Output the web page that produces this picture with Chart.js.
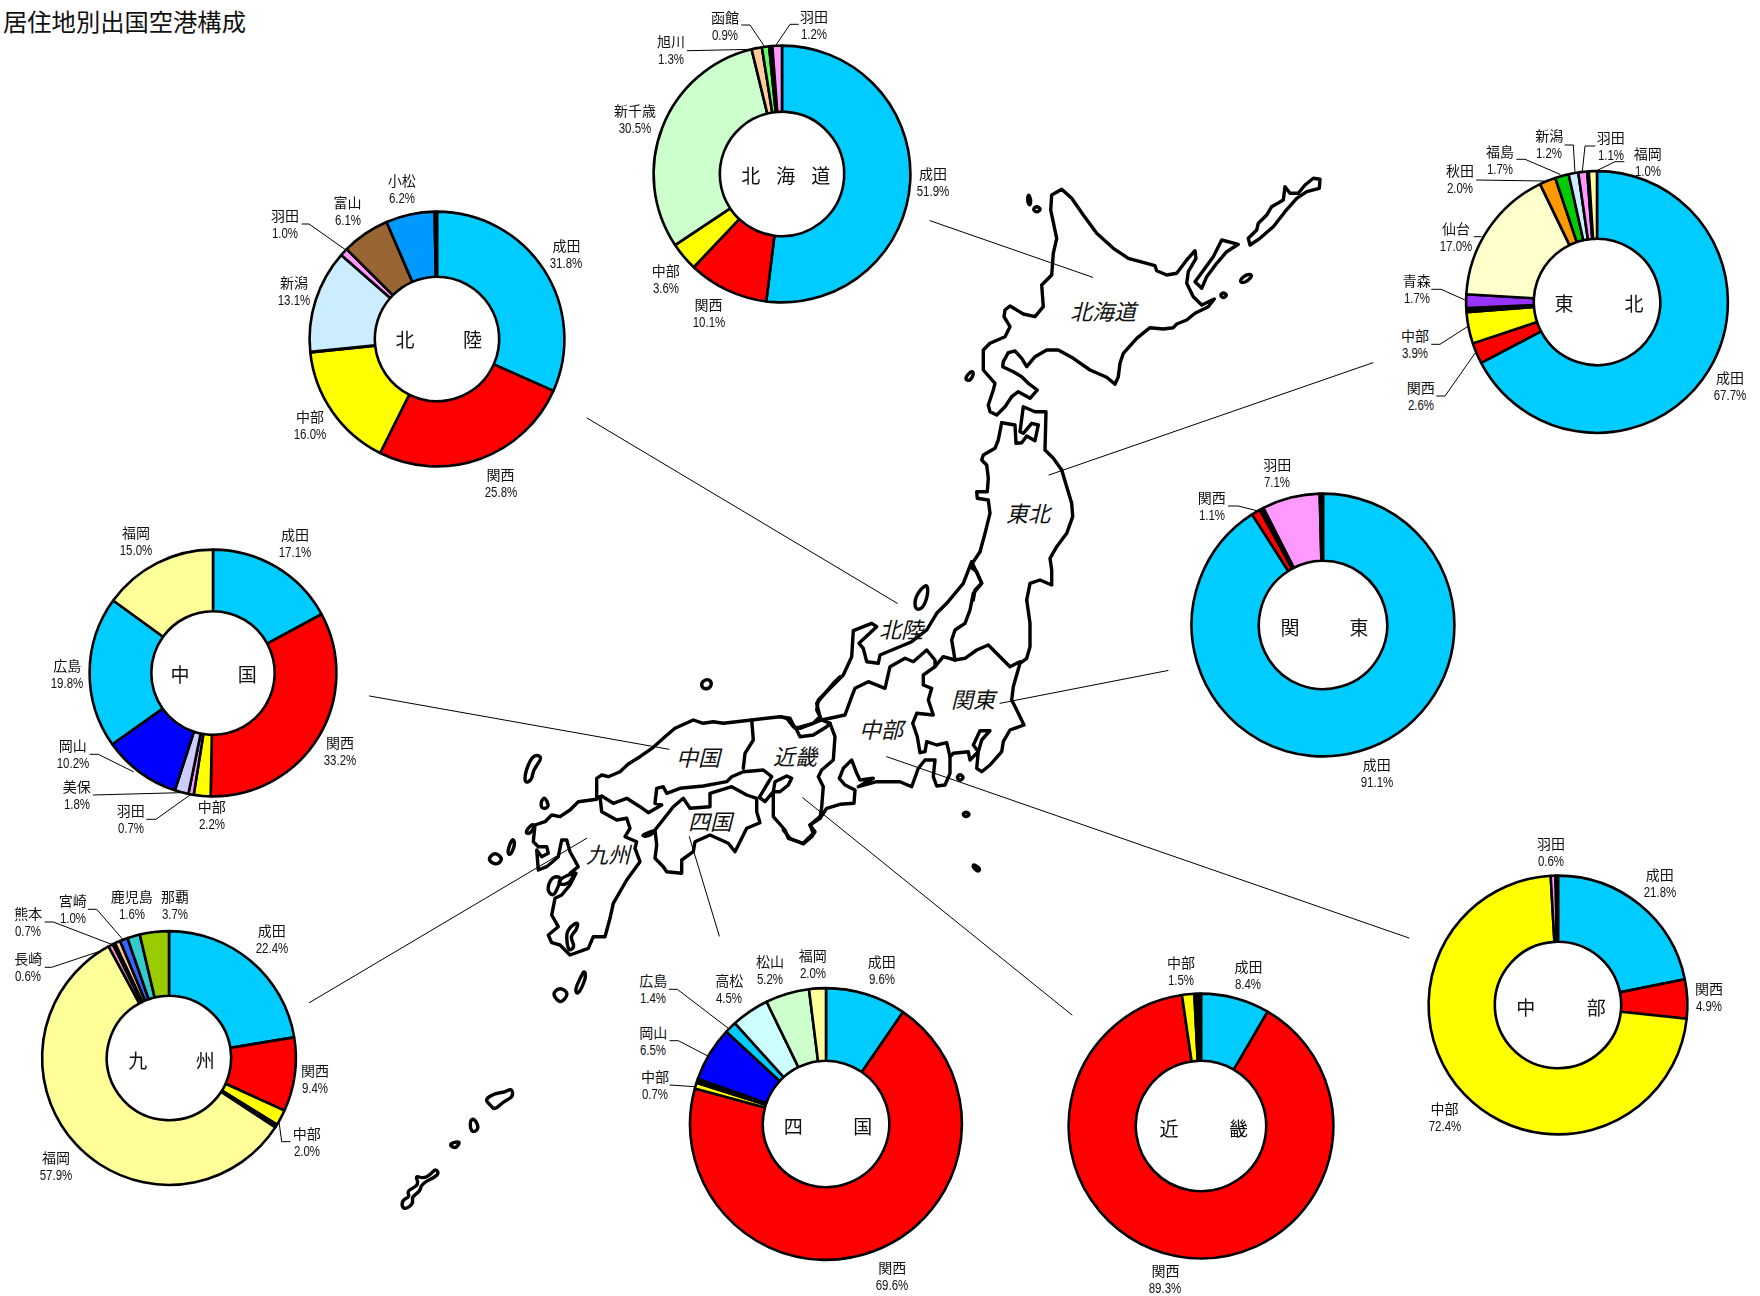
<!DOCTYPE html>
<html lang="ja"><head><meta charset="utf-8">
<title>居住地別出国空港構成</title>
<script src="https://cdn.jsdelivr.net/npm/chart.js@4"></script>
<style>
html,body{margin:0;padding:0;background:#fff}
#stage{position:relative;width:1760px;height:1296px;overflow:hidden;background:#fff;font-family:"Noto Sans CJK JP",sans-serif;color:#111}
#stage canvas{position:absolute}
svg{position:absolute;left:0;top:0}
.t{position:absolute;white-space:nowrap;transform:translate(-50%,-50%);text-align:center}
.lab{font-size:14px;line-height:20px}
.lab b{display:block;font-weight:400;line-height:18px}
.lab i{display:block;font-style:normal;font-family:"Liberation Sans",sans-serif;font-size:14px;line-height:18px;transform:scaleX(.82)}
.ctr{font-size:19px;line-height:22px}
.map{font-size:22px;font-style:italic;line-height:26px}
#title{position:absolute;left:3px;top:6px;font-size:24.3px;line-height:30px;white-space:nowrap}
</style></head><body><div id="stage">
<div id="title">居住地別出国空港構成</div>
</div>
<script>
// ---- data: share of departures by airport, clockwise from 12 o'clock ----
const hokkaidoAirports=['成田','関西','中部','新千歳','旭川','函館','その他','羽田'];
const hokkaidoShares=[51.9,10.1,3.6,30.5,1.3,0.9,0.4,1.2];
const tohokuAirports=['成田','関西','中部','その他','青森','仙台','秋田','福島','新潟','羽田','その他','福岡'];
const tohokuShares=[67.7,2.6,3.9,0.5,1.7,17.0,2.0,1.7,1.2,1.1,0.2,1.0];
const hokurikuAirports=['成田','関西','中部','その他','新潟','羽田','富山','小松','その他'];
const hokurikuShares=[31.8,25.8,16.0,0.1,13.1,1.0,6.1,6.2,0.3];
const kantoAirports=['成田','関西','その他','羽田','その他'];
const kantoShares=[91.1,1.1,0.5,7.1,0.4];
const chubuAirports=['成田','関西','中部','羽田','その他'];
const chubuShares=[21.8,4.9,72.4,0.6,0.3];
const kinkiAirports=['成田','関西','中部','その他'];
const kinkiShares=[8.4,89.3,1.5,0.8];
const chugokuAirports=['成田','関西','中部','羽田','美保','岡山','広島','福岡'];
const chugokuShares=[17.1,33.2,2.2,0.7,1.8,10.2,19.8,15.0];
const shikokuAirports=['成田','関西','中部','その他','岡山','広島','高松','松山','福岡'];
const shikokuShares=[9.6,69.6,0.7,0.5,6.5,1.4,4.5,5.2,2.0];
const kyushuAirports=['成田','関西','中部','その他','福岡','長崎','大分','熊本','宮崎','鹿児島','那覇'];
const kyushuShares=[22.4,9.4,2.0,0.4,57.9,0.6,0.3,0.7,1.0,1.6,3.7];
const regionNames=['北海道','東北','北陸','関東','中部','近畿','中国','四国','九州'];
const regionAirports=[hokkaidoAirports,tohokuAirports,hokurikuAirports,kantoAirports,chubuAirports,kinkiAirports,chugokuAirports,shikokuAirports,kyushuAirports];
const regionShares=[hokkaidoShares,tohokuShares,hokurikuShares,kantoShares,chubuShares,kinkiShares,chugokuShares,shikokuShares,kyushuShares];

// ---- styles ----
const airportColors={'成田':'#00CCFF','関西':'#FF0000','中部':'#FFFF00','羽田':'#FF99FF','新千歳':'#CCFFCC','旭川':'#FFCC99','函館':'#66FF66',
'その他':'#000000','青森':'#9933FF','仙台':'#FFFFCC','秋田':'#FF9900','福島':'#00CC00','新潟':'#CCECFF','福岡':'#FFFF99','富山':'#996633','小松':'#0099FF',
'美保':'#CCCCFF','岡山':'#0000FF','広島':'#00CCFF','高松':'#CCFFFF','松山':'#CCFFCC','長崎':'#FF99CC','大分':'#CC99FF','熊本':'#FFCC99','宮崎':'#3366FF','鹿児島':'#33CCCC','那覇':'#99CC00'};

// ---- layout: [centre x, centre y, outer r, inner r, title x, title y, title char pitch] ----
const donutLayout=[
[782,174,128,63,785.7,175,35],
[1597,302,130.5,64,1599,303,70],
[437,339,127,63,438.8,339,67.6],
[1323,625,131,65,1324.6,626.5,69],
[1558,1005,129,64,1561,1006.5,70.3],
[1201,1126,132,66,1203.8,1127.5,69.5],
[212.5,673,123,62.5,213.7,674,67.3],
[825.5,1124,135.5,64,828,1125.5,69.4],
[169,1058,126.5,63,171.5,1060,67.5]];
const labelLayout=[
{'成田':[933,182],'関西':[708.6,313],'中部':[665.7,279],'新千歳':[635,119],'旭川':[671,50],'函館':[725,26],'羽田':[814,25]},
{'成田':[1730,386],'関西':[1420.7,396],'中部':[1415,344.3],'青森':[1416.7,289.3],'仙台':[1456,236.7],'秋田':[1460,179.3],'福島':[1500,160],'新潟':[1549.3,144.3],'羽田':[1610.7,145.7],'福岡':[1647.7,161.7]},
{'成田':[566.4,254],'関西':[500.6,482.7],'中部':[310,425],'新潟':[294,291],'羽田':[285,224],'富山':[347.5,210.7],'小松':[401.8,189]},
{'成田':[1376.8,772.6],'関西':[1211.7,506],'羽田':[1277.3,472.7]},
{'成田':[1659.8,882.7],'関西':[1709,997.3],'中部':[1444.5,1116.7],'羽田':[1550.9,852]},
{'成田':[1248.4,975],'関西':[1165.4,1279],'中部':[1181,970.7]},
{'成田':[295,543],'関西':[340,750.7],'中部':[211.7,815],'羽田':[130.7,819],'美保':[76.7,795],'岡山':[72.7,754],'広島':[67.3,674],'福岡':[136,540.7]},
{'成田':[881.7,970],'関西':[892.3,1276],'中部':[655,1085],'岡山':[653.3,1040.7],'広島':[653.3,989],'高松':[729.3,989],'松山':[770,970],'福岡':[812.7,964.3]},
{'成田':[271.7,939.3],'関西':[315,1079],'中部':[306.7,1141.7],'福岡':[56,1166],'長崎':[28.3,967.3],'熊本':[28.3,921.7],'宮崎':[72.7,909.3],'鹿児島':[131.7,905],'那覇':[175,905]}];
const mapLabels=[['北海道',1103,310],['東北',1028,512],['北陸',901,628],['関東',973,698],['中部',881,728],['中国',698,756],['近畿',795,755],['四国',710,820],['九州',608,853]];

const stage=document.getElementById('stage');
const NS='http://www.w3.org/2000/svg';
const svg=document.createElementNS(NS,'svg');
svg.setAttribute('width',1760);svg.setAttribute('height',1296);
stage.appendChild(svg);

// traced basemap, each group in its own crop frame [origin x, origin y, scale]
function toReal(o,p){return [o[0]+p[0]/o[2],o[1]+p[1]/o[2]];}
function line(o,pts,w,close){
  const el=document.createElementNS(NS,close?'polygon':'polyline');
  el.setAttribute('points',pts.map(p=>toReal(o,p).map(v=>v.toFixed(1)).join(',')).join(' '));
  style(el,w);
}
function style(el,w){
  el.setAttribute('fill','none');el.setAttribute('stroke','#000');el.setAttribute('stroke-width',w);
  el.setAttribute('stroke-linejoin','round');el.setAttribute('stroke-linecap','round');
  svg.appendChild(el);
}
function blob(o,pts,w){ // small closed island, corners rounded
  const r=pts.map(p=>toReal(o,p)),n=r.length;
  const mid=(a,b)=>[(a[0]+b[0])/2,(a[1]+b[1])/2];
  let m=mid(r[n-1],r[0]),d='M'+m[0].toFixed(1)+' '+m[1].toFixed(1);
  for(let i=0;i<n;i++){const e=mid(r[i],r[(i+1)%n]);d+=' Q'+r[i][0].toFixed(1)+' '+r[i][1].toFixed(1)+' '+e[0].toFixed(1)+' '+e[1].toFixed(1);}
  const el=document.createElementNS(NS,'path');el.setAttribute('d',d+'Z');style(el,w);
}
const N=[880,150,3],C=[780,560,3],W=[480,660,3],S=[380,1060,3],T=[540,960,3];
const mapLines=[
[N,[[515,135],[545,118],[575,145],[610,195],[650,250],[700,295],[745,325],[825,347],[830,362],[860,375],[890,370],[920,330],[945,302],[948,325],[925,365],[920,400],[940,440],[965,465],[1003,447],[985,470],[945,490],[920,510],[890,522],[880,533],[850,537],[810,533],[770,565],[730,610],[720,640],[715,680],[705,703],[680,682],[630,660],[580,625],[535,600],[500,600],[465,620],[440,650],[425,625],[405,603],[385,608],[370,635],[368,650],[400,665],[425,680],[445,700],[472,720],[450,745],[415,725],[395,740],[375,770],[350,795],[330,785],[325,765],[340,720],[345,700],[310,660],[310,600],[330,580],[375,560],[390,530],[372,500],[375,480],[390,468],[430,492],[465,500],[490,470],[485,405],[515,375],[520,310],[530,265],[512,180]],1],
[N,[[445,130],[453,150],[450,168],[442,155]],2],
[N,[[458,178],[470,168],[484,178],[470,188]],2],
[N,[[258,680],[275,662],[282,672],[270,692],[258,690]],2],
[N,[[1320,88],[1300,85],[1275,105],[1255,130],[1230,130],[1215,110],[1210,150],[1175,170],[1160,195],[1135,220],[1130,240],[1105,265],[1110,285],[1140,265],[1180,230],[1215,185],[1250,145],[1280,125],[1318,115]],1],
[N,[[1075,283],[1025,270],[1000,320],[960,375],[945,395],[965,415],[980,380],[1010,340],[1040,305]],1],
[N,[[1080,390],[1100,372],[1118,375],[1105,392],[1085,400]],2],
[N,[[1020,435],[1030,427],[1042,435],[1030,445]],2],
[N,[[365,818],[405,825],[408,880],[425,878],[440,858],[465,872],[475,825],[455,820],[430,850],[420,845],[430,770],[465,785],[498,785],[495,900],[520,925],[545,960],[560,1010],[575,1060],[578,1100],[560,1150],[530,1190],[510,1225],[515,1260],[515,1305],[480,1290],[450,1300],[440,1350]]],
[N,[[365,818],[355,870],[345,895],[310,915],[305,930],[320,945],[325,985],[322,1025],[290,1025],[292,1045],[325,1050],[330,1090],[315,1150],[300,1205],[270,1250],[290,1265],[305,1300],[285,1320],[280,1350]]],
[C,[[740,120],[750,190],[750,260],[740,295],[720,310],[700,380],[695,420],[715,460],[732,495],[690,510],[670,545],[665,575],[630,615],[605,635],[590,625],[595,575],[580,555],[600,512],[630,512],[605,540],[595,575],[570,600],[565,575],[520,580],[510,590],[510,640],[495,675],[470,678],[460,650],[465,600],[435,600],[415,625],[395,680],[360,665],[290,665],[235,680],[280,655],[240,660],[230,640],[215,600],[190,625],[178,655],[195,675],[225,690],[222,730],[180,733],[140,745],[120,775],[90,795],[105,815],[95,830],[70,852],[30,835],[10,810]]],
[C,[[440,68],[405,110],[405,150],[430,145],[445,100]],2],
[C,[[575,5],[550,70],[500,130],[470,160],[440,210],[395,245],[300,285],[295,310],[260,305],[250,265],[237,250],[290,200],[275,190],[220,212],[215,290],[190,345],[115,420],[110,450],[125,480],[60,505],[40,500],[20,475],[0,470]]],
[C,[[575,5],[605,70],[580,100],[570,150],[555,190],[525,210],[515,240],[525,300],[555,295],[590,270],[625,255],[660,290],[690,320],[720,305]]],
[C,[[125,480],[195,465],[215,410],[225,385],[265,365],[315,385],[330,320],[375,295],[400,305],[440,270],[465,300],[465,320],[490,290],[525,300]]],
[C,[[465,320],[430,345],[430,375],[455,385],[445,420],[460,465],[410,460],[398,490],[412,530],[420,578],[435,575],[440,545],[470,555],[500,548],[510,590]]],
[C,[[50,510],[60,530],[100,525],[140,500],[150,490],[125,480]]],
[C,[[150,490],[165,530],[160,600],[125,630],[115,650],[130,680],[125,740],[120,775]]],
[C,[[540,642],[552,652],[540,663],[530,652]],2],
[C,[[558,755],[570,763],[558,772],[547,763]],2],
[C,[[582,912],[602,928],[592,935],[578,920]],2],
[W,[[680,56],[696,66],[690,85],[670,87],[662,70]],2],
[W,[[815,180],[900,170],[930,175],[945,205],[1000,190],[1020,170],[1010,130],[1060,70],[1080,50]]],
[W,[[350,415],[350,355],[365,345],[385,350],[420,335],[445,312],[480,290],[520,262],[555,230],[585,205],[640,180],[670,190],[700,185],[730,190],[815,180],[820,240],[795,280],[790,325]]],
[W,[[350,415],[365,408],[400,430],[440,415],[480,440],[505,458],[545,435],[525,430],[530,385],[550,380],[560,400],[600,385],[670,378],[740,365],[755,350],[790,335],[850,330],[875,350],[860,375],[838,412],[855,425],[880,395],[885,365],[920,348],[935,355],[925,375],[900,395],[880,395],[880,470],[915,510],[925,535],[970,550],[1000,520],[990,495],[1025,465]]],
[W,[[525,510],[580,440],[610,415],[630,445],[690,440],[690,400],[755,380],[800,405],[830,415],[830,455],[840,488],[800,505],[765,575],[745,550],[690,525],[645,545],[640,575],[605,600],[605,640],[560,635],[550,620],[525,595],[530,555]],1],
[W,[[483,527],[510,515],[530,510],[505,530]],2],
[W,[[135,518],[155,492],[165,497],[150,522]],2],
[W,[[350,418],[295,425],[270,450],[240,470],[215,465],[195,485],[165,495],[160,545],[175,560],[200,560],[205,580],[185,590],[170,570],[175,630],[200,620],[235,590],[245,540],[260,540],[270,575],[295,620],[270,640],[288,640],[270,675],[245,705],[225,715],[215,765],[235,800],[205,825],[215,848],[240,855],[270,885],[325,865],[340,830],[375,830],[390,775],[400,730],[440,660],[480,605],[465,565],[470,545],[435,530],[450,505],[440,475],[410,480],[365,455],[360,410]]],
[W,[[200,690],[215,650],[245,650],[235,680],[220,710]],2],
[W,[[235,660],[285,635],[270,670],[240,675]],2],
[W,[[270,800],[295,785],[290,810],[270,830],[285,860],[265,875],[258,825]],2],
[W,[[175,285],[185,295],[160,330],[155,360],[135,370],[135,340],[155,290]],2],
[W,[[185,420],[195,412],[208,440],[190,447],[182,438]],2],
[W,[[25,595],[45,577],[68,595],[55,613],[35,610]],2],
[W,[[100,535],[105,555],[92,585],[82,580],[90,550]],2],
[T,[[38,100],[60,82],[87,100],[65,128],[50,120]],2],
[T,[[133,30],[138,50],[125,85],[112,103],[105,90],[120,55]],2],
[S,[[315,118],[345,100],[375,97],[395,85],[400,110],[370,125],[345,150],[330,135]],2],
[S,[[272,178],[285,178],[297,205],[280,218],[270,205]],2],
[S,[[212,250],[242,243],[228,265],[212,258]],2],
[S,[[178,345],[168,325],[150,345],[130,355],[105,347],[118,375],[80,393],[90,410],[68,420],[65,440],[78,448],[100,430],[95,410],[120,395],[125,370]],2]
];
mapLines.forEach(m=>m[2]===2?blob(m[0],m[1],3.4):line(m[0],m[1],3.4,m[2]));

// thin pointers from the map to each chart
const R=[0,0,1];
[[[930,220.7],[1092.7,277.3]],[[1049,475],[1373,362.7]],[[1000,703.3],[1168,670.5]],[[886.7,756.7],[1409,938]],[[802.7,797.7],[1072,1015]],[[587,418],[897.3,603.3]],[[369.5,696],[669,749.3]],[[689.3,836.7],[719.3,936]],[[586.7,838.3],[309.3,1002.7]]].forEach(p=>line(R,p,1));

// label leader lines
const TH=[1380,110,3],KY=[0,860,3],HK=[610,0,3],CG=[40,510,3],SK=[620,930,3];
[
[TH,[[732,155],[705,155],[650,182]]],[TH,[[645,108],[615,108],[607,185]]],[TH,[[555,105],[580,105],[585,188]]],[TH,[[410,148],[435,148],[540,193]]],[TH,[[290,210],[490,213]]],[TH,[[283,380],[303,380]]],[TH,[[155,538],[183,538],[255,570]]],[TH,[[155,703],[180,703],[262,650]]],[TH,[[170,858],[195,858],[285,730]]],
[KY,[[835,770],[845,845],[870,845]]],[KY,[[135,322],[155,322],[335,262]]],[KY,[[135,186],[160,186],[340,255]]],[KY,[[265,148],[290,148],[370,240]]],
[HK,[[565,73],[540,73],[498,135]]],[HK,[[395,75],[420,75],[462,137]]],[HK,[[232,152],[430,148]]],
[CG,[[150,733],[175,733],[280,785]]],[CG,[[160,855],[420,848]]],[CG,[[320,928],[348,928],[450,855]]],
[SK,[[148,178],[172,178],[325,295]]],[SK,[[150,332],[175,332],[262,377]]],[SK,[[150,465],[225,470]]],
[N,[[1045,1068],[1075,1068],[1130,1082]]],
[R,[[302,224],[309,224],[344.5,249]]]
].forEach(p=>line(p[0],p[1],1));

function addText(cls,x,y,html,extra){
  const d=document.createElement('div');d.className='t '+cls;d.style.left=x+'px';d.style.top=y+'px';d.style.zIndex=5;
  d.innerHTML=html;if(extra)Object.assign(d.style,extra);stage.appendChild(d);return d;
}
mapLabels.forEach(m=>addText('map',m[1],m[2],m[0]));

regionNames.forEach((name,i)=>{
  const [cx,cy,r,inner,tx,ty,pitch]=donutLayout[i];
  const airports=regionAirports[i],shares=regionShares[i];
  const half=Math.ceil(r)+6,cv=document.createElement('canvas');
  cv.width=cv.height=half*2;cv.style.width=cv.style.height=half*2+'px';
  cv.style.left=(cx-half)+'px';cv.style.top=(cy-half)+'px';
  stage.appendChild(cv);
  const outer=r+0.4;
  new Chart(cv,{type:'doughnut',
    data:{labels:airports,datasets:[{data:shares,backgroundColor:airports.map(a=>airportColors[a]),borderColor:'#000',borderWidth:2.6}]},
    options:{responsive:false,animation:false,devicePixelRatio:1,radius:outer,cutout:((inner-0.8)/outer*100)+'%',rotation:0,
      layout:{padding:0},plugins:{legend:{display:false},tooltip:{enabled:false}}}});
  const ls=pitch-19;
  addText('ctr',tx,ty,name,{letterSpacing:ls+'px',paddingLeft:ls+'px'});
  const lay=labelLayout[i];
  airports.forEach((a,k)=>{
    if(!lay[a])return;
    addText('lab',lay[a][0],lay[a][1],'<b>'+a+'</b><i>'+shares[k].toFixed(1)+'%</i>');
  });
});
</script></body></html>
